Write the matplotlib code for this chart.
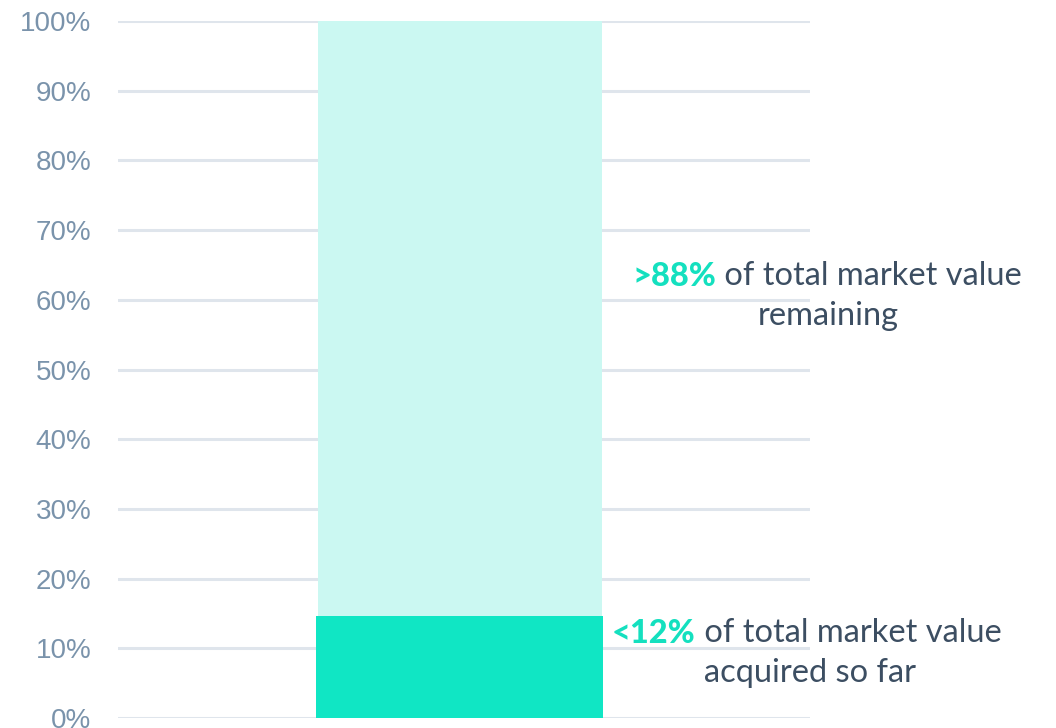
import numpy as np
import matplotlib.pyplot as plt

categories = ['Market value']
acquired = [14.6]
remaining = [85.4]
yticks = np.arange(0, 101, 10)
tick_labels = [f"{v}%" for v in yticks]

fig = plt.figure(figsize=(10.56, 7.28), dpi=100)
ax = fig.add_axes([118 / 1056, 10 / 728, 692 / 1056, 697 / 728])

x = np.array([0.494])
ax.bar(x, acquired, width=0.415, color='#10e6c4', zorder=3)
ax.bar(x, remaining, bottom=acquired, width=0.411, color='#cbf8f2', zorder=3)

ax.set_xlim(0, 1)
ax.set_ylim(0, 100)
ax.set_yticks(yticks)
ax.set_yticklabels(tick_labels, fontsize=20, color='#7a93ab', family='Liberation Sans')
ax.tick_params(axis='y', length=0, pad=19)
ax.set_xticks([])
ax.grid(axis='y', color='#dfe5ec', linewidth=2.2, zorder=0)
for s in ax.spines.values():
    s.set_visible(False)

teal = '#14e0bf'
dark = '#3c4e62'
font = 'Lato'
fs = 23.5


def label(x_left, y_base, bold, rest, second, x_center2, y_base2):
    t1 = fig.text(x_left / 1056, 1 - y_base / 728, bold, color=teal, fontsize=fs,
                  fontweight='black', family=font, va='baseline', ha='left')
    ax.annotate(' ' + rest, xy=(1, 0), xycoords=t1, va='bottom', ha='left',
                color=dark, fontsize=fs, family=font, annotation_clip=False)
    fig.text(x_center2 / 1056, 1 - y_base2 / 728, second, color=dark, fontsize=fs,
             family=font, va='baseline', ha='center')


label(632, 286, '>88%', 'of total market value', 'remaining', 828, 325)
label(612, 643, '<12%', 'of total market value', 'acquired so far', 810, 682)

fig.savefig('out.png', dpi=100)
